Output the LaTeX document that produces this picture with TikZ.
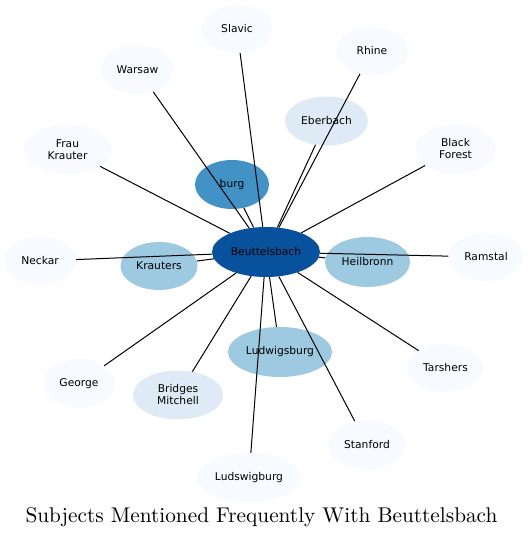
\documentclass[tikz,border=0pt]{standalone}
\usepackage{fontspec}
\newfontfamily\labelfont{DejaVu Sans}
\newfontfamily\titlefont{lmroman10-regular}[Extension=.otf]
\usepackage{tikz}
\usetikzlibrary{shapes.geometric}
\definecolor{blueA}{HTML}{F7FBFF}
\definecolor{blueB}{HTML}{DEEBF7}
\definecolor{blueC}{HTML}{9ECAE1}
\definecolor{blueD}{HTML}{4292C6}
\definecolor{blueE}{HTML}{08519C}
\tikzset{
    subject/.style={ellipse, draw=none, inner sep=0pt, align=center,
        font=\labelfont\fontsize{10.7}{12}\selectfont},
    rare/.style={subject, fill=blueA},
    few/.style={subject, fill=blueB},
    some/.style={subject, fill=blueC},
    many/.style={subject, fill=blueD},
    link/.style={draw=black, line width=1pt},
}

\begin{document}
\begin{tikzpicture}[x=1pt,y=-1pt]
\useasboundingbox (0,0) rectangle (530,538);

\node [subject, fill=blueE, minimum width=108pt, minimum height=50pt] (beut) at (266,252) {Beuttelsbach};

\node [many, minimum width=74pt, minimum height=49pt] (burg) at (232,184.5) {burg};
\node [some, minimum width=85pt, minimum height=50pt] (heilbronn) at (367.5,262) {Heilbronn};
\node [some, minimum width=77pt, minimum height=48pt] (krauters) at (159,266) {Krauters};
\node [some, minimum width=104pt, minimum height=50pt] (ludwigsburg) at (280,352) {Ludwigsburg};
\node [few, minimum width=83pt, minimum height=49pt] (eberbach) at (326.5,121) {Eberbach};
\node [few, minimum width=90pt, minimum height=49pt] (bridges) at (178,395) {Bridges\\Mitchell};

\node [rare, minimum width=72pt, minimum height=48pt] (slavic) at (237,29) {Slavic};
\node [rare, minimum width=72pt, minimum height=48pt] (rhine) at (372,51) {Rhine};
\node [rare, minimum width=73pt, minimum height=49pt] (warsaw) at (137.5,69.5) {Warsaw};
\node [rare, minimum width=89pt, minimum height=49pt] (frau) at (67.5,149.5) {Frau\\Krauter};
\node [rare, minimum width=80pt, minimum height=50pt] (forest) at (455.5,149) {Black\\Forest};
\node [rare, minimum width=72pt, minimum height=48pt] (neckar) at (40,261) {Neckar};
\node [rare, minimum width=75pt, minimum height=48pt] (ramstal) at (486,257) {Ramstal};
\node [rare, minimum width=72pt, minimum height=49pt] (george) at (79,383.5) {George};
\node [rare, minimum width=77pt, minimum height=48pt] (tarshers) at (445.5,368) {Tarshers};
\node [rare, minimum width=78pt, minimum height=49pt] (stanford) at (367,444.5) {Stanford};
\node [rare, minimum width=104pt, minimum height=49pt] (ludswigburg) at (249,477.5) {Ludswigburg};

\draw [link] (beut)--(burg);
\draw [link] (beut)--(heilbronn);
\draw [link] (beut)--(krauters);
\draw [link] (beut)--(ludwigsburg);
\draw [link] (beut)--(eberbach);
\draw [link] (beut)--(bridges);
\draw [link] (beut)--(slavic);
\draw [link] (beut)--(rhine);
\draw [link] (beut)--(warsaw);
\draw [link] (beut)--(frau);
\draw [link] (beut)--(forest);
\draw [link] (beut)--(neckar);
\draw [link] (beut)--(ramstal);
\draw [link] (beut)--(george);
\draw [link] (beut)--(tarshers);
\draw [link] (beut)--(stanford);
\draw [link] (beut)--(ludswigburg);

\node [anchor=base, font=\titlefont\fontsize{21.3}{25}\selectfont] (title) at (261.5,522) {Subjects Mentioned Frequently With Beuttelsbach};
\end{tikzpicture}
\end{document}
